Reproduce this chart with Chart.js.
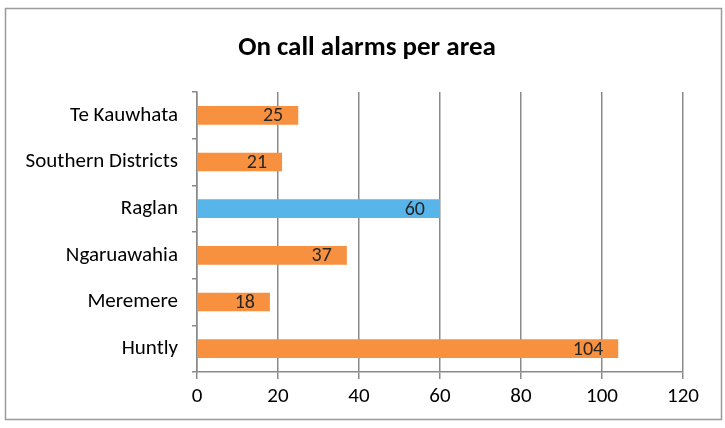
<!DOCTYPE html>
<html>
<head>
<meta charset="utf-8">
<script src="https://cdn.jsdelivr.net/npm/chart.js@4/dist/chart.umd.min.js"></script>
<style>
  html, body { margin: 0; padding: 0; background: #fff; }
  #wrap { position: relative; width: 725px; height: 428px; }
</style>
</head>
<body>
<div id="wrap"><canvas id="alarms"></canvas></div>
<script>
// On call alarms per area
var areas = ['Te Kauwhata', 'Southern Districts', 'Raglan', 'Ngaruawahia', 'Meremere', 'Huntly'];
var alarms = [25, 21, 60, 37, 18, 104];
var xTicks = [0, 20, 40, 60, 80, 100, 120];
var chartTitle = 'On call alarms per area';

var ORANGE = '#f7913f';
var BLUE = '#58b5ea';
var FONT = 'Carlito, Lato, "Open Sans", sans-serif';

// Raglan is the highlighted bar
var barColors = areas.map(function (a) { return a === 'Raglan' ? BLUE : ORANGE; });

// outer frame and title, centred on the frame like the pasted Excel chart
var frame = {
    id: 'frame',
    afterDraw: function (chart) {
        var ctx = chart.ctx;
        ctx.save();
        ctx.strokeStyle = '#9a9a9a';
        ctx.lineWidth = 1.5;
        ctx.strokeRect(5.5, 8.5, 716, 411);
        ctx.font = 'bold 27px ' + FONT;
        ctx.fillStyle = '#000';
        ctx.textAlign = 'center';
        ctx.textBaseline = 'middle';
        ctx.fillText(chartTitle, 367, 48);
        ctx.restore();
    }
};

// value labels, inside end of each bar
var valueLabels = {
    id: 'valueLabels',
    afterDatasetsDraw: function (chart) {
        var ctx = chart.ctx;
        var meta = chart.getDatasetMeta(0);
        ctx.save();
        ctx.font = '20px ' + FONT;
        ctx.fillStyle = '#262626';
        ctx.textAlign = 'right';
        ctx.textBaseline = 'middle';
        meta.data.forEach(function (bar, i) {
            ctx.fillText(String(alarms[i]), bar.x - 15, bar.y + 1);
        });
        ctx.restore();
    }
};

new Chart(document.getElementById('alarms'), {
    type: 'bar',
    data: {
        labels: areas,
        datasets: [{
            label: 'Alarms',
            data: alarms,
            backgroundColor: barColors,
            borderWidth: 0,
            barPercentage: 0.4,
            categoryPercentage: 1.0
        }]
    },
    options: {
        indexAxis: 'y',
        responsive: true,
        maintainAspectRatio: false,
        animation: false,
        layout: { padding: { left: 10, right: 42, top: 92, bottom: 0 } },
        plugins: {
            legend: { display: false },
            tooltip: { enabled: false },
            title: { display: false }
        },
        scales: {
            x: {
                min: 0,
                max: 120,
                afterBuildTicks: function (axis) {
                    axis.ticks = xTicks.map(function (v) { return { value: v }; });
                },
                afterFit: function (axis) { axis.height = 56; },
                grid: {
                    color: '#8a8a8a',
                    lineWidth: 1.5,
                    drawTicks: true,
                    tickLength: 7
                },
                border: { display: true, color: '#8a8a8a', width: 1.5 },
                ticks: {
                    color: '#000',
                    padding: 5,
                    font: { family: FONT, size: 21 }
                }
            },
            y: {
                afterFit: function (axis) { axis.width = 187; },
                grid: {
                    drawOnChartArea: false,
                    drawTicks: true,
                    tickLength: 5,
                    color: '#8a8a8a',
                    lineWidth: 1.5
                },
                border: { display: true, color: '#8a8a8a', width: 1.5 },
                ticks: {
                    color: '#000',
                    padding: 14,
                    font: { family: FONT, size: 21 }
                }
            }
        }
    },
    plugins: [frame, valueLabels]
});
</script>
</body>
</html>
